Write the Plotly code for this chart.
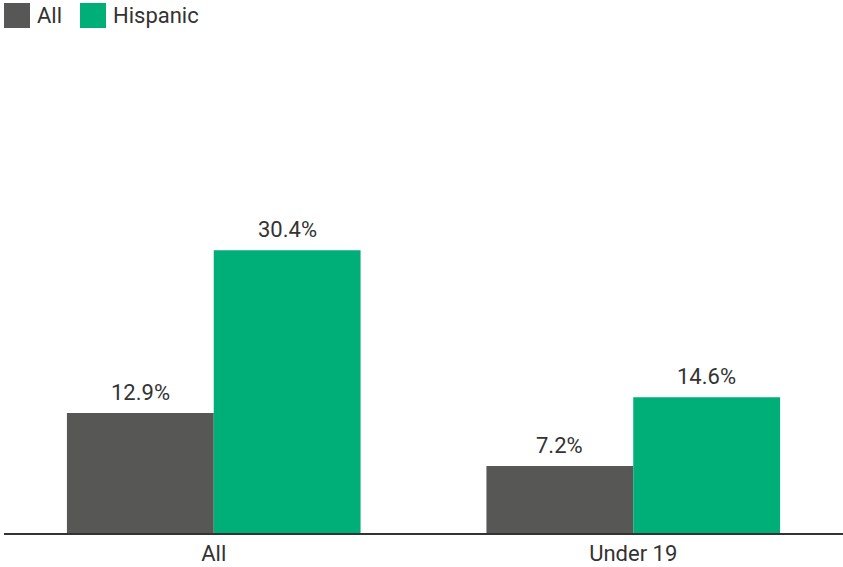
import plotly.graph_objects as go

categories = ["All", "Under 19"]
series_names = ["All", "Hispanic"]
all_values = [12.9, 7.2]
hispanic_values = [30.4, 14.6]
colors = ["#575756", "#00AE78"]

FONT = "Roboto"
TXT = "#333333"

fig = go.Figure()
for name, vals, col in zip(series_names, [all_values, hispanic_values], colors):
    fig.add_trace(go.Bar(x=categories, y=vals, name=name, marker_color=col,
                         marker_line_width=0, showlegend=False))

# value labels above bars
for si, vals in enumerate([all_values, hispanic_values]):
    for ci, v in enumerate(vals):
        fig.add_annotation(x=ci + (-0.175 if si == 0 else 0.175), y=v, xref="x", yref="y",
                           text=f"{v:.1f}%", showarrow=False, yanchor="bottom", yshift=6,
                           font=dict(family=FONT, size=22, color=TXT))

W, H = 843, 567
pl, pr, pt, pb = 4, 0, 40, 34
fig.update_layout(
    width=W, height=H,
    margin=dict(l=pl, r=pr, t=pt, b=pb),
    plot_bgcolor="white", paper_bgcolor="white",
    barmode="group", bargap=0.3, bargroupgap=0,
    font=dict(family=FONT, size=22, color=TXT),
    xaxis=dict(type="category", range=[-0.5, 1.5], showline=True, linecolor="#333333",
               linewidth=2, ticks="", showgrid=False, automargin=False,
               tickfont=dict(size=22, color=TXT)),
    yaxis=dict(range=[0, 53], visible=False, showgrid=False, automargin=False),
)

# legend drawn as layout items (pixel positions converted to paper coords)
pw, ph = W - pl - pr, H - pt - pb
def px(x):
    return (x - pl) / pw
def py(y):
    return (H - pb - y) / ph

sq_x = [4, 80]
text_x = [35, 111]
for i, (name, col) in enumerate(zip(series_names, colors)):
    fig.add_shape(type="rect", xref="paper", yref="paper",
                  x0=px(sq_x[i]), x1=px(sq_x[i] + 26), y0=py(28), y1=py(3),
                  line_width=0, fillcolor=col)
    fig.add_annotation(xref="paper", yref="paper", x=px(text_x[i]), y=py(15.5),
                       xanchor="left", yanchor="middle", showarrow=False, text=name,
                       font=dict(family=FONT, size=22, color=TXT))

fig.write_html("out.html")
